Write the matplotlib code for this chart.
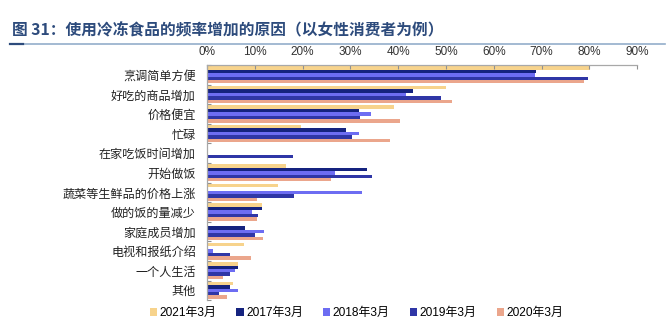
import matplotlib

matplotlib.use("Agg")
import matplotlib.pyplot as plt
from matplotlib.lines import Line2D
from matplotlib.patches import Patch
from matplotlib.ticker import FuncFormatter
import numpy as np

plt.rcParams["font.family"] = ["Noto Sans CJK SC", "DejaVu Sans"]

title = "图 31：使用冷冻食品的频率增加的原因（以女性消费者为例）"

categories = [
    "烹调简单方便", "好吃的商品增加", "价格便宜", "忙碌", "在家吃饭时间增加",
    "开始做饭", "蔬菜等生鲜品的价格上涨", "做的饭的量减少", "家庭成员增加",
    "电视和报纸介绍", "一个人生活", "其他",
]
series_names = ["2021年3月", "2017年3月", "2018年3月", "2019年3月", "2020年3月"]
v2021 = [80.1, 50.0, 39.2, 19.7, 0.0, 16.5, 14.9, 11.4, 0.0, 7.8, 6.5, 5.5]
v2017 = [68.8, 43.2, 31.9, 29.0, 0.0, 33.5, 0.0, 11.6, 7.9, 0.0, 6.4, 4.9]
v2018 = [68.6, 41.6, 34.3, 31.9, 0.0, 26.8, 32.5, 9.4, 12.0, 1.3, 5.9, 6.4]
v2019 = [79.8, 49.0, 32.1, 30.4, 18.0, 34.5, 18.2, 10.7, 10.1, 4.9, 4.9, 2.5]
v2020 = [78.9, 51.2, 40.3, 38.3, 0.0, 26.0, 10.4, 10.5, 11.8, 9.2, 3.4, 4.1]
colors = ["#F7D38C", "#15237F", "#6D6DF2", "#2F36A6", "#EBA68C"]

values = [v2021, v2017, v2018, v2019, v2020]

fig = plt.figure(figsize=(6.7, 3.22), dpi=100)
ax = fig.add_axes([0.309, 0.068, 0.642, 0.73])

y = np.arange(len(categories))
bar_h = 0.88 / len(values)
for k, (vals, col) in enumerate(zip(values, colors)):
    offset = -0.44 + bar_h * (k + 0.5)
    ax.barh(y + offset, np.asarray(vals) / 100, height=bar_h, color=col,
            edgecolor="none")

ax.set_ylim(len(categories) - 0.5, -0.5)
ax.set_xlim(0, 0.9)
ax.xaxis.tick_top()
ax.set_xticks(np.arange(0, 0.91, 0.1))
ax.xaxis.set_major_formatter(FuncFormatter(lambda v, _: f"{v * 100:.0f}%"))
ax.tick_params(axis="x", direction="in", length=3, color="#909090", pad=5,
               labelsize=8.5, labelcolor="#333333")
for lab in ax.get_xticklabels():
    lab.set_family(["Liberation Sans", "DejaVu Sans"])

ax.set_yticks(np.arange(len(categories) + 1) - 0.5)
ax.set_yticklabels([])
ax.tick_params(axis="y", which="major", direction="in", length=3, color="#909090")
ax.set_yticks(y, minor=True)
ax.set_yticklabels(categories, minor=True)
ax.tick_params(axis="y", which="minor", length=0, pad=8, labelsize=8.7,
               labelcolor="#222222")

for side in ("right", "bottom"):
    ax.spines[side].set_visible(False)
for side in ("top", "left"):
    ax.spines[side].set_color("#A8A8A8")
    ax.spines[side].set_linewidth(0.9)

fig.text(0.018, 0.905, title, fontsize=11.3, fontweight="bold", color="#2D4B7C",
         va="center")
fig.add_artist(Line2D([0.015, 0.993], [0.862, 0.862], color="#93AECB", lw=1.2))
fig.add_artist(Line2D([0.015, 0.035], [0.862, 0.862], color="#2D4B7C", lw=1.6))

handles = [Patch(facecolor=c, edgecolor="none") for c in colors]
fig.legend(handles, series_names, loc="center", bbox_to_anchor=(0.532, 0.028),
           ncol=5, frameon=False, handlelength=0.6, handleheight=0.6,
           handletextpad=0.2, columnspacing=1.7,
           prop={"family": ["Liberation Sans", "Noto Sans CJK SC"], "size": 8.6})

fig.savefig("out.png", dpi=100)
